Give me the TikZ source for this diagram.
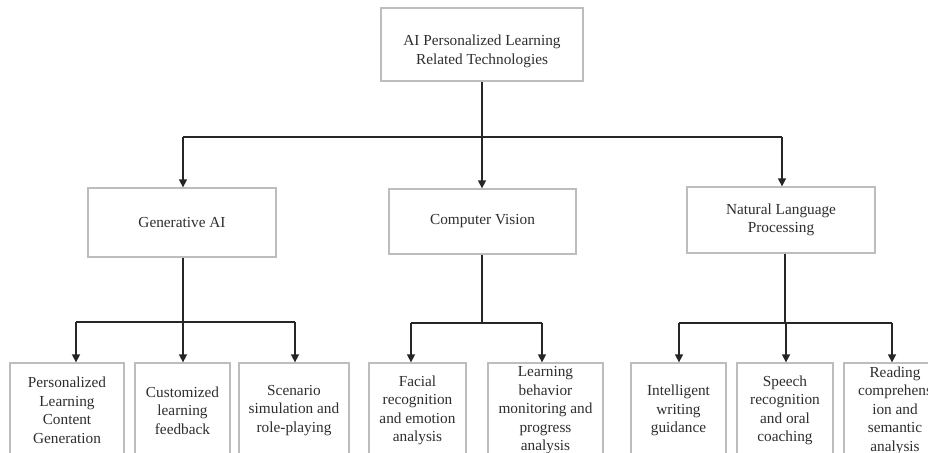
\documentclass[tikz,border=0pt]{standalone}
\usepackage{fontspec}
\setmainfont{Liberation Serif}
\usetikzlibrary{arrows.meta}
\definecolor{boxgray}{HTML}{BDBDBD}
\definecolor{txtgray}{HTML}{2E2E2E}
\begin{document}
\begin{tikzpicture}[x=1pt,y=-1pt,
  txt/.style={inner sep=0pt,align=center,text=txtgray,font=\fontsize{15.3}{18.5}\selectfont},
  box/.style={txt,draw=boxgray,line width=1.3pt,fill=white},
  conn/.style={draw=black!85,line width=1.5pt},
  arr/.style={conn,-{Triangle[width=8pt,length=8pt]}}]
\useasboundingbox (0,0) rectangle (928,452);
\clip (0,0) rectangle (928,452);
\fill[white] (0,0) rectangle (928,452);
% level 1
\node[box,minimum width=202pt,minimum height=73pt] (top) at (482,44.5) {};
\node[txt] (toptext) at ([yshift=-7pt]top.center) {AI Personalized Learning\\Related Technologies};
% level 2
\node[box,minimum width=188pt,minimum height=69pt] (gen) at (182,222.5) {Generative AI};
\node[box,minimum width=187pt,minimum height=65pt] (cv) at (482.5,221.5) {Computer Vision};
\node[box,minimum width=188pt,minimum height=66pt] (nlp) at (781,220) {Natural Language\\Processing};
% level 3
\node[box,minimum width=114pt,minimum height=95pt] (b1) at (67,410.5) {Personalized\\Learning\\Content\\Generation};
\node[box,minimum width=95pt,minimum height=95pt] (b2) at (182.5,410.5) {Customized\\learning\\feedback};
\node[box,minimum width=110pt,minimum height=95pt] (b3) at (294,410.5) {Scenario\\simulation and\\role-playing};
\node[box,minimum width=97pt,minimum height=95pt] (b4) at (417.5,410.5) {Facial\\recognition\\and emotion\\analysis};
\node[box,minimum width=115pt,minimum height=95pt] (b5) at (545.5,410.5) {Learning\\behavior\\monitoring and\\progress\\analysis};
\node[box,minimum width=95pt,minimum height=95pt] (b6) at (678.5,410.5) {Intelligent\\writing\\guidance};
\node[box,minimum width=96pt,minimum height=95pt] (b7) at (785,410.5) {Speech\\recognition\\and oral\\coaching};
\node[box,minimum width=102pt,minimum height=95pt] (b8) at (895,410.5) {Reading\\comprehens\\ion and\\semantic\\analysis};
% junction coordinates
\coordinate (j0) at (482,137);
\coordinate (j0l) at (183,137);
\coordinate (j0r) at (782,137);
\coordinate (j1) at (183,322);
\coordinate (j1l) at (76,322);
\coordinate (j1r) at (295,322);
\coordinate (j2) at (482,323);
\coordinate (j2l) at (411,323);
\coordinate (j2r) at (542,323);
\coordinate (j3) at (785,323);
\coordinate (j3l) at (679,323);
\coordinate (j3m) at (786,323);
\coordinate (j3r) at (892,323);
% level 1 connectors
\draw[conn] (top.south -| j0) -- (j0);
\draw[conn] (j0l) -- (j0r);
\draw[arr] (j0l) -- (j0l |- gen.north);
\draw[arr] (j0) -- (j0 |- cv.north);
\draw[arr] (j0r) -- (j0r |- nlp.north);
% generative AI
\draw[conn] (gen.south -| j1) -- (j1);
\draw[conn] (j1l) -- (j1r);
\draw[arr] (j1l) -- (j1l |- b1.north);
\draw[arr] (j1) -- (j1 |- b2.north);
\draw[arr] (j1r) -- (j1r |- b3.north);
% computer vision
\draw[conn] (cv.south -| j2) -- (j2);
\draw[conn] (j2l) -- (j2r);
\draw[arr] (j2l) -- (j2l |- b4.north);
\draw[arr] (j2r) -- (j2r |- b5.north);
% NLP
\draw[conn] (nlp.south -| j3) -- (j3);
\draw[conn] (j3l) -- (j3r);
\draw[arr] (j3l) -- (j3l |- b6.north);
\draw[arr] (j3m) -- (j3m |- b7.north);
\draw[arr] (j3r) -- (j3r |- b8.north);
\end{tikzpicture}
\end{document}
